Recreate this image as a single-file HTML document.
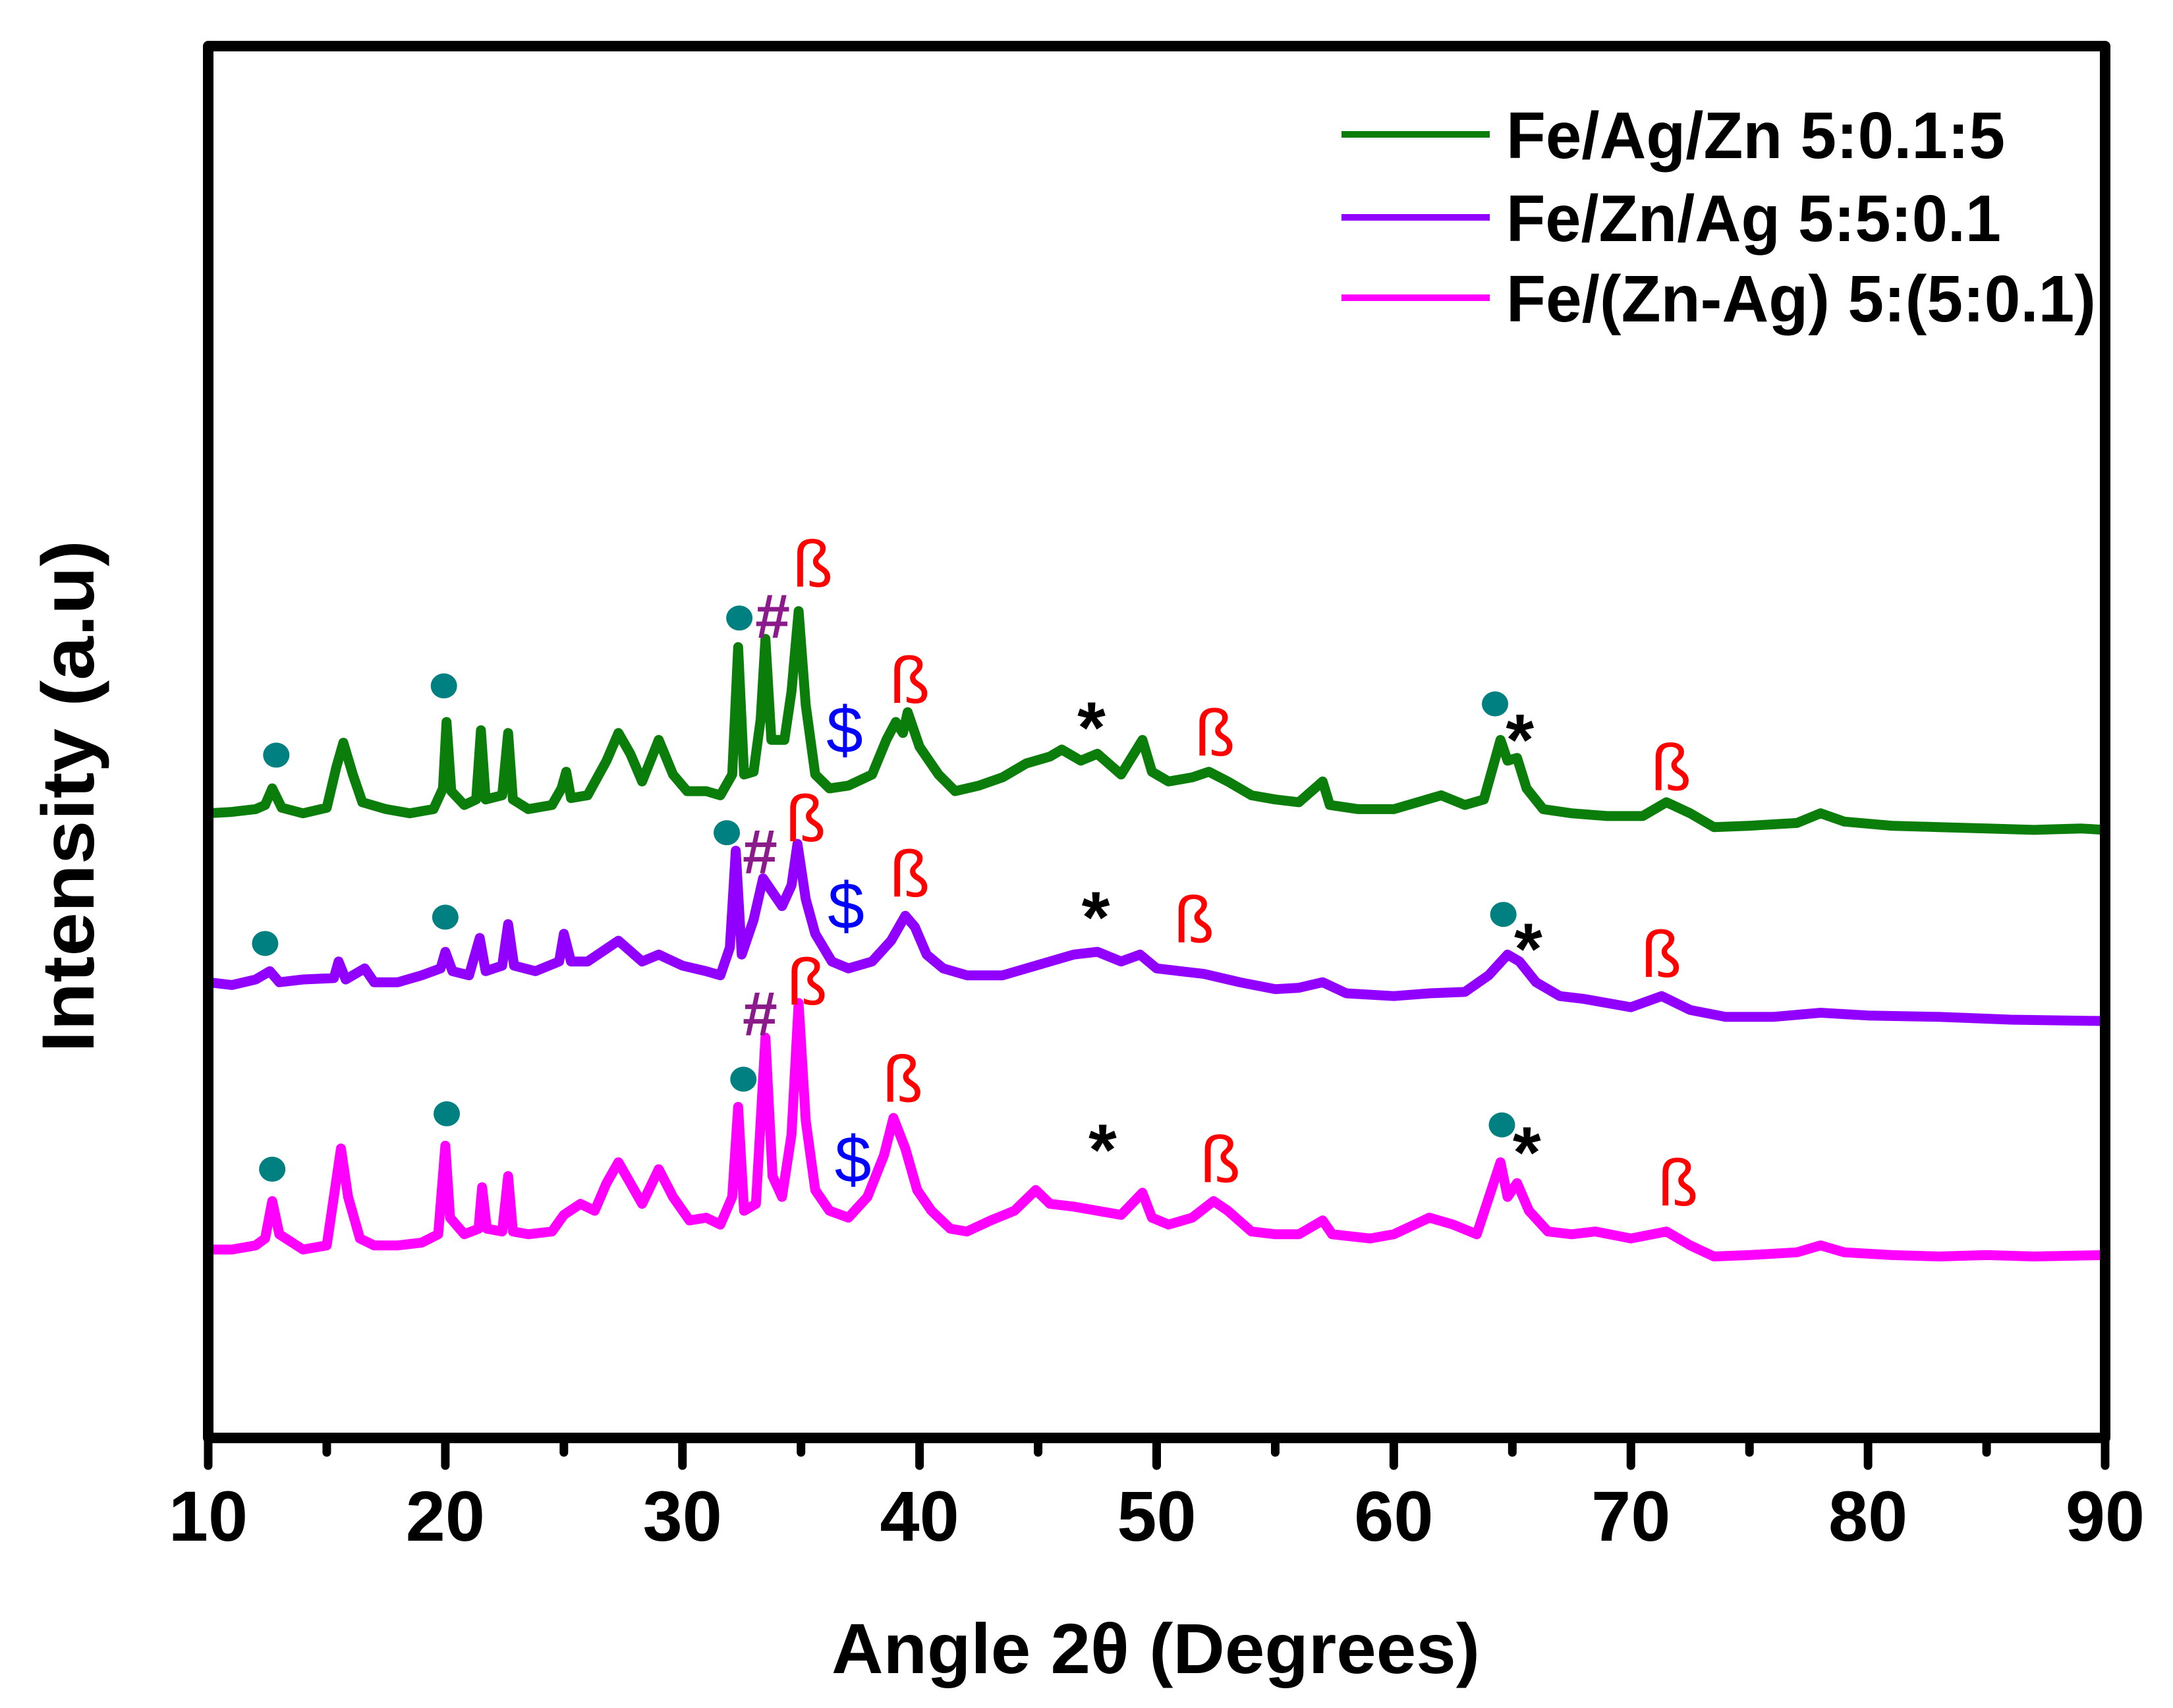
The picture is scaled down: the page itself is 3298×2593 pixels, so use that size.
<!DOCTYPE html>
<html><head><meta charset="utf-8"><style>
html,body{margin:0;padding:0;background:#fff;}
svg{display:block;font-family:"Liberation Sans",Arial,sans-serif;}
</style></head><body>
<svg id="chart" width="3298" height="2593" viewBox="0 0 3298 2593" xmlns="http://www.w3.org/2000/svg">
<rect width="3298" height="2593" fill="#fff"/>
<g id="plot"></g>
<g id="annot"></g>
<rect x="316" y="70" width="2879" height="2113" fill="none" stroke="#000" stroke-width="16" stroke-linejoin="round"/>
<g id="axis"></g>
<text x="1754" y="2540" text-anchor="middle" font-size="108" font-weight="bold" textLength="984" lengthAdjust="spacingAndGlyphs">Angle 2θ (Degrees)</text>
<text transform="translate(142,1209) rotate(-90)" text-anchor="middle" font-size="112" font-weight="bold" textLength="778" lengthAdjust="spacingAndGlyphs">Intensity (a.u)</text>
<g id="legend"></g>
</svg>
<script>
const seriesNames = ["Fe/Ag/Zn 5:0.1:5","Fe/Zn/Ag 5:5:0.1","Fe/(Zn-Ag) 5:(5:0.1)"];
const seriesColors = ["#0a7d0a","#9100ff","#ff00ff"];
const greenX = [10,11,12,12.4,12.7,13.1,14,15,15.4,15.7,16.1,16.5,17.5,18.5,19.5,19.9,20.05,20.25,20.8,21.3,21.5,21.7,22.4,22.65,22.85,23.5,24.5,24.9,25.1,25.3,26,26.8,27.3,27.8,28.3,29,29.6,30.2,31,31.6,32.1,32.35,32.6,33,33.3,33.5,33.75,34.3,34.6,34.9,35.2,35.6,36.2,37,38,38.6,39,39.3,39.5,40,40.8,41.5,42.5,43.5,44.5,45.5,46,46.8,47.5,48.5,49.4,49.8,50.5,51.5,52.2,53,54,55,56,57,57.3,58.5,60,61,62,63,63.8,64.5,64.8,65.2,65.6,66.3,67.5,69,70.5,71.5,72.5,73.5,75,77,78,79,81,83,85,87,89,90];
const greenY = [452,453,455,458,470,456,452,456,485,503,480,460,455,452,455,470,518,468,458,462,512,462,465,510,462,455,458,470,482,463,465,490,510,495,475,505,480,468,468,465,480,572,480,482,520,578,505,505,540,598,530,480,470,472,480,505,518,510,525,500,480,468,472,478,488,493,498,490,495,480,505,482,475,478,482,475,465,462,460,475,458,455,455,460,465,458,462,505,490,492,470,455,452,450,450,460,452,442,443,445,452,446,443,442,441,440,441,440];
const purpleX = [10,11,12,12.6,13,14,15.3,15.5,15.8,16.6,17,18,19,19.8,20,20.3,21,21.45,21.7,22.4,22.65,22.9,23.8,24.8,25,25.3,26,27.3,28.3,29,30,31,31.6,32,32.25,32.5,33,33.4,33.8,34.2,34.6,34.85,35.2,35.6,36.3,37,38,38.8,39.4,39.8,40.3,41,42,43.5,44.5,45.5,46.5,47.5,48.5,49.3,50,51,52,53.5,55,56,57,58,60,61.5,63,64,64.8,65.3,66,67,68,70,71.3,72.5,74,76,78,80,83,86,90];
const purpleY = [330,328,332,338,330,332,333,345,332,340,330,330,335,340,352,338,335,362,338,342,372,342,338,345,365,345,345,360,345,350,342,338,335,355,425,350,375,405,395,385,400,430,390,365,345,340,345,360,378,370,350,340,335,335,340,345,350,352,345,350,340,338,336,330,325,326,330,322,320,322,323,335,350,345,330,320,318,312,320,310,305,305,308,306,305,303,302];
const magentaX = [10,11,12,12.4,12.7,13,14,15,15.3,15.6,15.9,16.4,17,18,19,19.7,20,20.2,20.8,21.4,21.55,21.75,22.4,22.65,22.85,23.5,24.5,25,25.7,26.3,26.8,27.3,27.8,28.3,29,29.6,30.3,31,31.6,32.1,32.35,32.6,33.1,33.5,33.8,34.2,34.6,34.9,35.2,35.6,36.2,37,37.8,38.5,38.9,39.4,39.9,40.5,41.3,42,43,44,44.9,45.5,46.5,47.5,48.5,49.4,49.8,50.5,51.5,52.4,53,54,55,56,57,57.4,59,60,61.5,62.5,63.5,64.5,64.8,65.2,65.7,66.5,67.5,68.5,70,71.5,72.5,73.5,75,77,78,79,81,83,85,87,90];
const magentaY = [137,137,140,145,172,148,137,140,175,210,175,145,140,140,142,148,212,160,148,152,182,152,150,190,150,148,150,162,170,165,185,200,185,170,195,175,158,160,155,175,240,165,170,290,190,175,220,315,230,180,165,160,175,205,232,210,180,165,152,150,158,165,180,170,168,165,162,178,160,155,160,172,165,150,148,148,158,148,145,148,160,155,148,200,175,185,165,150,148,150,145,150,140,132,133,135,140,135,133,132,133,132,133];
const xTicks = [10,20,30,40,50,60,70,80,90];
const xMinorTicks = [15,25,35,45,55,65,75,85];
const annSymbols = ["●","●","●","#","ß","$","ß","*","ß","●","*","ß", "●","●","●","#","ß","$","ß","*","ß","●","*","ß", "●","●","●","#","ß","$","ß","*","ß","●","*","ß"];
const annX = [12.87,19.94,32.4,33.8,35.5,36.84,39.59,47.25,52.46,64.27,65.32,71.7, 12.4,20,31.87,33.27,35.2,36.9,39.59,47.43,51.58,64.62,65.67,71.29, 12.7,20.06,32.57,33.27,35.26,37.19,39.3,47.72,52.69,64.56,65.61,71.99];
const annY = [494,544,593,595,632,512,548,515,510,531,506,485, 358,377,438,425,448,385,408,378,375,379,355,350, 195,235,260,308,330,202,260,210,202,227,208,185];

const NS="http://www.w3.org/2000/svg";
function xs(d){return 316+(d-10)*(2879/80);}
function ys(v){return 2185-v*2.1024;}
function mk(tag,attrs,parent){const e=document.createElementNS(NS,tag);for(const k in attrs)e.setAttribute(k,attrs[k]);parent.appendChild(e);return e;}

const plot=document.getElementById('plot');
const allX=[greenX,purpleX,magentaX], allY=[greenY,purpleY,magentaY];
const keys=["green","purple","magenta"];
for(let s=0;s<3;s++){
  let d="";
  for(let i=0;i<allX[s].length;i++){d+=(i?"L":"M")+xs(allX[s][i]).toFixed(1)+","+ys(allY[s][i]).toFixed(1);}
  const p=mk('path',{d:d,fill:"none",stroke:seriesColors[s],"stroke-width":15,"stroke-linejoin":"round"},plot);
  
  
}

const annot=document.getElementById('annot');
const symColor={"●":"#008080","#":"#8b1a8b","ß":"#ff0000","$":"#0000ff","*":"#000"};
for(let i=0;i<annSymbols.length;i++){
  const sym=annSymbols[i];
  if(sym==="●"){
    const c=mk('ellipse',{cx:xs(annX[i]),cy:ys(annY[i]),rx:20,ry:19,fill:"#008080"},annot);
    
    
  } else {
    const fs = sym==="*"?110:(sym==="#"?95:100);
    const t=mk('text',{x:xs(annX[i]),y:ys(annY[i])+(sym==="*"?40:34),"text-anchor":"middle","font-size":fs,"font-weight":(sym==="ß"||sym==="$")?"normal":"bold",fill:symColor[sym]},annot);
    t.textContent=sym;
    
    
  }
}

const axis=document.getElementById('axis');
for(const t of xTicks){
  const l=mk('line',{x1:xs(t),x2:xs(t),y1:2183,y2:2225,stroke:"#000","stroke-width":13,"stroke-linecap":"round"},axis);
  
  
  const tx=mk('text',{x:xs(t),y:2339,"text-anchor":"middle","font-size":108,"font-weight":"bold"},axis);
  tx.textContent=t;
  
  
}
for(const t of xMinorTicks){
  const l=mk('line',{x1:xs(t),x2:xs(t),y1:2183,y2:2205,stroke:"#000","stroke-width":13,"stroke-linecap":"round"},axis);
  
  
}

const legend=document.getElementById('legend');
const legY=[204,330,452];
const legW=[757,751,895];
for(let s=0;s<3;s++){
  const l=mk('line',{x1:2036,x2:2261,y1:legY[s],y2:legY[s],stroke:seriesColors[s],"stroke-width":10},legend);
  
  
  const t=mk('text',{x:2286,y:legY[s]+36,"font-size":100,"font-weight":"bold",textLength:legW[s],lengthAdjust:"spacingAndGlyphs"},legend);
  t.textContent=seriesNames[s];
  
  
}
</script>
</body></html>
